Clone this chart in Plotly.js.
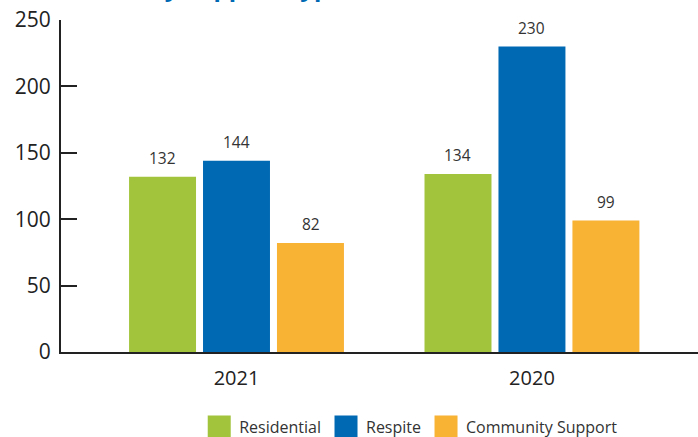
<!DOCTYPE html>
<html>
<head>
<meta charset="utf-8">
<script src="https://cdn.plot.ly/plotly-3.0.1.min.js"></script>
<style>html,body{margin:0;padding:0;background:#fff;}#chart{width:698px;height:437px;}</style>
</head>
<body>
<div id="chart"></div>
<script>
const categories = ["2021", "2020"];
const seriesNames = ["Residential", "Respite", "Community Support"];
const residential = [132, 134];
const respite = [144, 230];
const communitySupport = [82, 99];
const yTicks = [0, 50, 100, 150, 200, 250];
const titleText = "Clients by Support Type";

const colors = ["#a2c43c", "#0069b3", "#f8b234"];
const seriesValues = [residential, respite, communitySupport];

const traces = seriesValues.map((vals, i) => ({
  type: "bar",
  name: seriesNames[i],
  x: categories,
  y: vals,
  marker: {color: colors[i], line: {width: 0}},
  hoverinfo: "none"
}));

const slotPx = 74;
const annotations = [];
seriesValues.forEach((vals, i) => {
  vals.forEach((v, j) => {
    annotations.push({
      x: j, y: v, xref: "x", yref: "y",
      text: String(v), showarrow: false,
      xshift: (i - 1) * slotPx, yshift: 6, yanchor: "bottom",
      font: {family: "Open Sans", size: 15.5, color: "#333"}
    });
  });
});
annotations.push({
  xref: "paper", yref: "paper", x: 0.0, y: 1, xanchor: "left", yanchor: "bottom",
  xshift: -2, yshift: 15,
  text: "<b>" + titleText + "</b>", showarrow: false,
  font: {family: "Open Sans", size: 24, color: "#0069b3"}
});

const layout = {
  width: 698, height: 437,
  margin: {l: 61, r: 0, t: 20, b: 85, autoexpand: false},
  paper_bgcolor: "#fff", plot_bgcolor: "#fff",
  barmode: "group",
  bargap: 0.249,
  bargroupgap: 0.0946,
  showlegend: true,
  legend: {
    orientation: "h", x: 0.217, xanchor: "left",
    yref: "container", y: 0.024, yanchor: "middle",
    font: {family: "Open Sans", size: 16, color: "#333"},
    itemclick: false, itemdoubleclick: false,
    tracegroupgap: 0
  },
  xaxis: {
    type: "category",
    range: [-0.594, 1.562],
    showline: true, linecolor: "#222", linewidth: 2,
    ticks: "", showgrid: false, zeroline: false,
    tickfont: {family: "Open Sans", size: 20, color: "#222"},
    ticklabelstandoff: 7,
    automargin: false
  },
  yaxis: {
    range: [0, 250],
    tickvals: yTicks,
    ticktext: yTicks.map(String),
    showline: true, linecolor: "#222", linewidth: 2,
    ticks: "inside", ticklen: 16, tickwidth: 2, tickcolor: "#222",
    showgrid: false, zeroline: false,
    tickfont: {family: "Open Sans", size: 21, color: "#222"},
    ticklabelstandoff: 4,
    automargin: false
  },
  annotations: annotations
};

Plotly.newPlot("chart", traces, layout, {staticPlot: true, displayModeBar: false}).then(() => {
  document.querySelectorAll(".legendpoints path").forEach(p => {
    p.setAttribute("d", "M11.5,11H-11.5V-11H11.5Z");
  });
});
</script>
</body>
</html>
